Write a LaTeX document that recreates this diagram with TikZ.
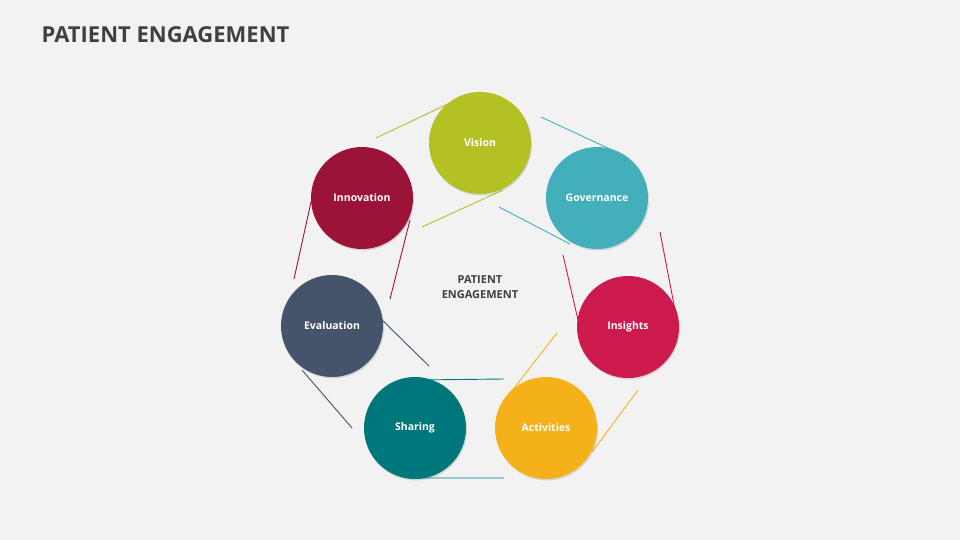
\documentclass[tikz,border=0pt]{standalone}
\usepackage{fontspec}
\setmainfont{Open Sans}
\usetikzlibrary{positioning,shadows}
\definecolor{bgc}{HTML}{F2F2F2}
\definecolor{titlec}{HTML}{404040}
\definecolor{visionc}{HTML}{B3C124}
\definecolor{govc}{HTML}{43AFBA}
\definecolor{insc}{HTML}{CB1A4B}
\definecolor{actc}{HTML}{F5B11A}
\definecolor{sharec}{HTML}{00777A}
\definecolor{evalc}{HTML}{44546A}
\definecolor{innoc}{HTML}{9C1338}
\tikzset{
  blob/.style={circle, minimum size=102pt, inner sep=0pt, fill=#1, text=white,
    font=\fontsize{10.5}{12}\selectfont\bfseries,
    drop shadow={opacity=0.25, shadow xshift=1pt, shadow yshift=-1.5pt}},
  tie/.style={draw=#1, line width=0.9pt}
}
\begin{document}
\begin{tikzpicture}[x=1pt,y=-1pt]
  \fill[bgc] (0,0) rectangle (960,540);
  \node[anchor=west, text=titlec, font=\fontsize{22}{26}\selectfont\bfseries] (title) at (38,35) {PATIENT ENGAGEMENT};
  % tangent strokes
  \draw[tie=visionc] (376,138) -- (452,102) (422,227) -- (503,190);
  \draw[tie=govc] (541,117) -- (612,150) (499,207) -- (570,244);
  \draw[tie=insc] (563,255) -- (578,320) (660,232) -- (675,310);
  \draw[tie=actc] (557,333) -- (511,392) (638,390) -- (592,452);
  \draw[tie=sharec] (415,380) -- (504,379) (420,478) -- (504,478);
  \draw[tie=evalc] (429,366) -- (378,316) (352,428) -- (302,370);
  \draw[tie=innoc] (294,279) -- (311,202) (390,299) -- (410,220);
  % circles
  \node[blob=visionc] (vision) at (480,143) {Vision};
  \node[blob=govc] (gov) at (597,198) {Governance};
  \node[blob=insc] (ins) at (628,327) {Insights};
  \node[blob=actc] (act) at (546,428) {Activities};
  \node[blob=sharec] (share) at (415,428) {Sharing};
  \node[blob=evalc] (eval) at (332,326) {Evaluation};
  \node[blob=innoc] (inno) at (362,198) {Innovation};
  \node[align=center, text=titlec, font=\fontsize{11}{15}\selectfont\bfseries] (center) at (480,287) {PATIENT\\ENGAGEMENT};
\end{tikzpicture}
\end{document}
